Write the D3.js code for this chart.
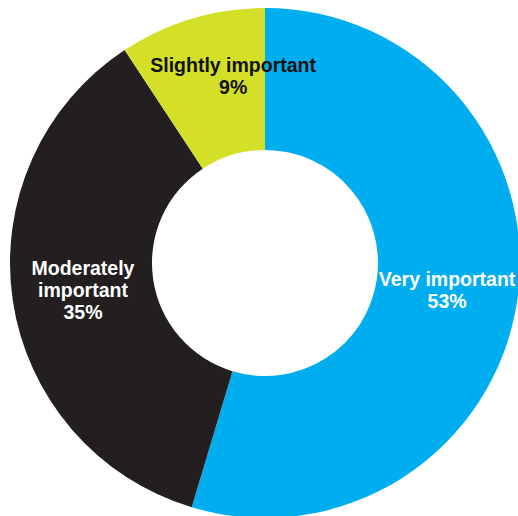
<!DOCTYPE html>
<html>
<head>
<meta charset="utf-8">
<script src="https://cdn.jsdelivr.net/npm/d3@7"></script>
<style>
  html, body { margin: 0; padding: 0; background: #fff; }
  svg { display: block; }
</style>
</head>
<body>
<svg id="chart" width="518" height="516"></svg>
<script>
// Importance ratings, clockwise from 12 o'clock
const categories = ["Very important", "Moderately important", "Slightly important"];
const labelLines = [["Very important"], ["Moderately", "important"], ["Slightly important"]];
const values = [53, 35, 9];
const colors = ["#00AEEF", "#231F20", "#D4DF27"];
const textColors = ["#FFFFFF", "#FFFFFF", "#111111"];

const svg = d3.select("#chart");
const cx = 265, cy = 263;
const outerR = 255, innerR = 113;

const g = svg.append("g").attr("transform", `translate(${cx},${cy})`);

const pie = d3.pie().sort(null).value(d => d.value);
const data = pie(categories.map((c, i) => ({ name: c, value: values[i], i })));

const arc = d3.arc().innerRadius(innerR).outerRadius(outerR);
const labelArc = d3.arc().innerRadius(184).outerRadius(184);

g.selectAll("path.slice")
  .data(data)
  .join("path")
  .attr("class", "slice")
  .attr("d", arc)
  .attr("fill", d => colors[d.data.i]);

// small nudges so the narrow top slice keeps its label clear of the edges
const nudge = { "Slightly important": [21, -11] };
const lineH = 22;

g.selectAll("text.label")
  .data(data)
  .join("text")
  .attr("class", "label")
  .attr("text-anchor", "middle")
  .attr("font-family", "'Liberation Sans', Arial, Helvetica, sans-serif")
  .attr("font-weight", "bold")
  .attr("font-size", 19.5)
  .attr("fill", d => textColors[d.data.i])
  .each(function (d) {
    const [x0, y0] = labelArc.centroid(d);
    const [dx, dy] = nudge[d.data.name] || [0, 0];
    const x = x0 + dx, y = y0 + dy;
    const lines = labelLines[d.data.i].concat([d.data.value + "%"]);
    const n = lines.length;
    d3.select(this).selectAll("tspan")
      .data(lines)
      .join("tspan")
      .attr("x", x)
      .attr("y", (t, k) => y + (k - (n - 1) / 2) * lineH + 7)
      .text(t => t);
  });
</script>
</body>
</html>
